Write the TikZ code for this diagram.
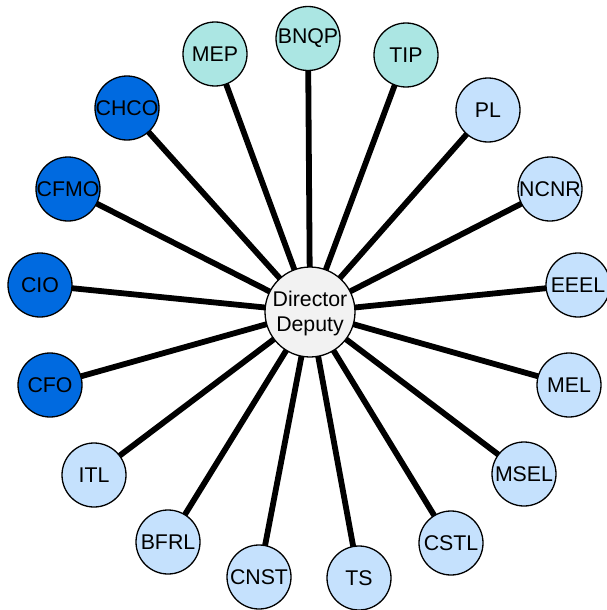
\documentclass[tikz,border=0pt]{standalone}
\usepackage{fontspec}
\setmainfont{Liberation Sans}
\usetikzlibrary{backgrounds}
\definecolor{darkb}{HTML}{006AE0}
\definecolor{teal}{HTML}{ABE6E3}
\definecolor{lightb}{HTML}{C5E1FD}
\definecolor{centerc}{HTML}{F2F2F2}
\tikzset{
  unit/.style={circle, draw=black, line width=1.3pt, minimum size=64pt, inner sep=0pt, font=\fontsize{21.3}{24}\selectfont},
  darkunit/.style={unit, fill=darkb},
  tealunit/.style={unit, fill=teal},
  lightunit/.style={unit, fill=lightb},
  hub/.style={circle, draw=black, line width=1.3pt, minimum size=90pt, inner sep=0pt, fill=centerc, font=\fontsize{21.3}{25}\selectfont},
  spoke/.style={line width=5.8pt, black}
}
\newcommand{\zw}[1]{\makebox[0pt]{#1}}
\begin{document}
\begin{tikzpicture}[x=1pt,y=-1pt]
\useasboundingbox (0,0) rectangle (607,610);
\node[hub] (c) at (310,312) {};
\node (ctext) at (310,314) [font=\fontsize{21.3}{25}\selectfont, inner sep=0pt] {\zw{\begin{tabular}{@{}c@{}}Director\\[0pt]Deputy\end{tabular}}};
\node[tealunit] (bnqp) at (308,38.5) {\zw{BNQP}};
\node[tealunit] (mep) at (215,54) {\zw{MEP}};
\node[tealunit] (tip) at (406,55) {\zw{TIP}};
\node[darkunit] (chco) at (127,108) {\zw{CHCO}};
\node[darkunit] (cfmo) at (68,189) {\zw{CFMO}};
\node[darkunit] (cio) at (40,285) {\zw{CIO}};
\node[darkunit] (cfo) at (50,385) {\zw{CFO}};
\node[lightunit] (pl) at (488,110) {\zw{PL}};
\node[lightunit] (ncnr) at (550,189) {\zw{NCNR}};
\node[lightunit] (eeel) at (578,285) {\zw{EEEL}};
\node[lightunit] (mel) at (569,385) {\zw{MEL}};
\node[lightunit] (msel) at (524,474) {\zw{MSEL}};
\node[lightunit] (cstl) at (451,543) {\zw{CSTL}};
\node[lightunit] (ts) at (359,578) {\zw{TS}};
\node[lightunit] (cnst) at (259,577) {\zw{CNST}};
\node[lightunit] (bfrl) at (168,542) {\zw{BFRL}};
\node[lightunit] (itl) at (94,475) {\zw{ITL}};
\begin{scope}[on background layer]
\foreach \n in {bnqp,mep,tip,chco,cfmo,cio,cfo,pl,ncnr,eeel,mel,msel,cstl,ts,cnst,bfrl,itl}
  \draw[spoke] (c.center) -- (\n.center);
\end{scope}
\end{tikzpicture}
\end{document}
